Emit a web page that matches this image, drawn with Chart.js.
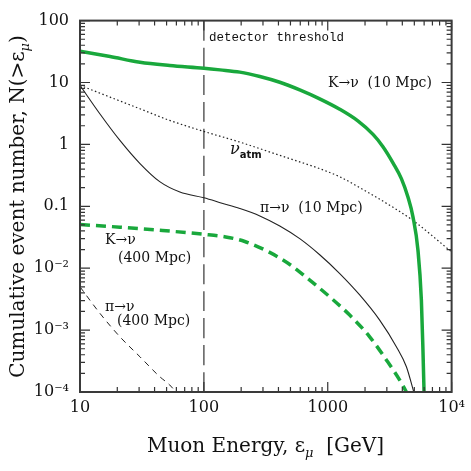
<!DOCTYPE html>
<html>
<head>
<meta charset="utf-8">
<script src="https://cdn.jsdelivr.net/npm/chart.js@4.4.1/dist/chart.umd.min.js"></script>
<style>
html, body { margin: 0; padding: 0; background: #fff; }
</style>
</head>
<body>
<canvas id="chart" width="471" height="471"></canvas>
<script>
// muon energy [GeV] and cumulative event number
const kNearE = [10, 17.5, 30.5, 53, 100, 135, 195, 283, 410, 594, 861, 1250, 1750, 2320, 2790, 3370, 3930, 4440, 4880, 5350, 5700, 5870, 5990];
const kNearN = [32, 26.3, 21.2, 18.8, 17, 16, 14.7, 12.5, 10.1, 7.6, 5.45, 3.7, 2.4, 1.45, 0.92, 0.5, 0.28, 0.141, 0.067, 0.0195, 0.00305, 0.000475, 0.0001];

const atmE = [10, 17.5, 30.5, 53, 100, 195, 410, 861, 1250, 1811, 2472, 4878, 9640, 10000];
const atmN = [9, 5.8, 3.76, 2.44, 1.62, 1.09, 0.665, 0.405, 0.3, 0.2, 0.14, 0.059, 0.0195, 0.0184];

const piNearE = [10, 14.5, 21, 30.5, 44, 64, 100, 140, 195, 283, 410, 594, 861, 1250, 1811, 2626, 3580, 4315, 4950];
const piNearN = [9, 3.1, 1.16, 0.49, 0.25, 0.17, 0.137, 0.112, 0.092, 0.07, 0.048, 0.03, 0.0165, 0.0082, 0.0037, 0.00145, 0.00054, 0.000256, 0.0001];

const kFarE = [10, 21, 44, 100, 150, 214, 340, 494, 716, 1038, 1504, 2181, 2972, 3811, 4315];
const kFarN = [0.0507, 0.046, 0.041, 0.0353, 0.032, 0.027, 0.018, 0.0115, 0.0064, 0.00344, 0.00175, 0.00078, 0.00033, 0.000156, 0.0001];

const piFarE = [10, 14.5, 21, 30.5, 44, 53, 59.5];
const piFarN = [0.005, 0.00186, 0.00078, 0.00037, 0.000177, 0.00013, 0.0001];

const thresholdE = 100;

const xTickValues = [10, 100, 1000, 10000];
const xTickLabels = ['10', '100', '1000', '10⁴'];
const yTickValues = [100, 10, 1, 0.1, 0.01, 0.001, 0.0001];
const yTickLabels = ['100', '10', '1', '0.1', '10⁻²', '10⁻³', '10⁻⁴'];

const green = '#19a83c';
const ink = '#222';
const serif = "'DejaVu Serif', serif";

function pts(xs, ys) {
    return xs.map((x, i) => ({ x: x, y: ys[i] }));
}

function labelFor(values, labels) {
    return function(value) {
        const i = values.findIndex(v => Math.abs(v - value) / v < 1e-6);
        return i >= 0 ? labels[i] : '';
    };
}

// text made of pieces so that subscripts can be drawn
function drawParts(ctx, parts, x, y) {
    let cx = x;
    parts.forEach(p => {
        ctx.font = p.font;
        ctx.fillText(p.text, cx, y + (p.dy || 0));
        cx += ctx.measureText(p.text).width;
    });
    return cx;
}

function partsWidth(ctx, parts) {
    let w = 0;
    parts.forEach(p => { ctx.font = p.font; w += ctx.measureText(p.text).width; });
    return w;
}

const framePlugin = {
    id: 'frame',
    afterDatasetsDraw(chart) {
        const ctx = chart.ctx;
        const a = chart.chartArea;
        const xs = chart.scales.x;
        const ys = chart.scales.y;
        ctx.save();

        // inward tick marks on all four sides
        ctx.strokeStyle = '#333';
        ctx.lineWidth = 1.2;
        const decadeTicks = (min, max) => {
            const out = [];
            for (let e = Math.floor(Math.log10(min)); e <= Math.ceil(Math.log10(max)); e++) {
                for (let m = 1; m < 10; m++) {
                    const v = m * Math.pow(10, e);
                    if (v >= min * 0.999 && v <= max * 1.001) out.push({ v: v, major: m === 1 });
                }
            }
            return out;
        };
        ctx.beginPath();
        decadeTicks(xs.min, xs.max).forEach(t => {
            const px = xs.getPixelForValue(t.v);
            const len = t.major ? 10 : 5;
            ctx.moveTo(px, a.bottom); ctx.lineTo(px, a.bottom - len);
            ctx.moveTo(px, a.top); ctx.lineTo(px, a.top + len);
        });
        decadeTicks(ys.min, ys.max).forEach(t => {
            const py = ys.getPixelForValue(t.v);
            const len = t.major ? 10 : 5;
            ctx.moveTo(a.left, py); ctx.lineTo(a.left + len, py);
            ctx.moveTo(a.right, py); ctx.lineTo(a.right - len, py);
        });
        ctx.stroke();

        ctx.strokeStyle = '#3a3a3a';
        ctx.lineWidth = 2;
        ctx.strokeRect(a.left, a.top, a.right - a.left, a.bottom - a.top);

        // curve labels
        ctx.fillStyle = '#111';
        ctx.textBaseline = 'middle';
        ctx.textAlign = 'left';
        ctx.font = "12.5px 'Liberation Mono', monospace";
        ctx.fillText('detector threshold', 209, 38);

        ctx.font = '14px ' + serif;
        ctx.fillText('K→ν  (10 Mpc)', 328, 83);
        ctx.fillText('π→ν  (10 Mpc)', 260, 208);
        ctx.fillText('K→ν', 105, 240);
        ctx.fillText('(400 Mpc)', 118, 258);
        ctx.fillText('π→ν', 105, 307);
        ctx.fillText('(400 Mpc)', 117, 321);

        drawParts(ctx, [
            { text: 'ν', font: 'italic 16px ' + serif },
            { text: 'atm', font: "bold 10px 'DejaVu Sans', sans-serif", dy: 5 }
        ], 230, 150);

        // axis titles
        ctx.textBaseline = 'alphabetic';
        const xTitle = [
            { text: 'Muon Energy, ε', font: '20px ' + serif },
            { text: 'μ', font: 'italic 13px ' + serif, dy: 5 },
            { text: '  [GeV]', font: '20px ' + serif }
        ];
        const xw = partsWidth(ctx, xTitle);
        drawParts(ctx, xTitle, 265.5 - xw / 2, 452);

        const yTitle = [
            { text: 'Cumulative event number, N(>ε', font: '20px ' + serif },
            { text: 'μ', font: 'italic 13px ' + serif, dy: 5 },
            { text: ')', font: '20px ' + serif }
        ];
        const yw = partsWidth(ctx, yTitle);
        ctx.translate(24, 206.5);
        ctx.rotate(-Math.PI / 2);
        drawParts(ctx, yTitle, -yw / 2, 0);

        ctx.restore();
    }
};

new Chart(document.getElementById('chart'), {
    type: 'line',
    data: {
        datasets: [
            {
                label: 'detector threshold',
                data: [{ x: thresholdE, y: yTickValues[yTickValues.length - 1] }, { x: thresholdE, y: yTickValues[0] }],
                borderColor: '#666',
                borderWidth: 1.6,
                borderDash: [20, 7],
                order: 5
            },
            {
                label: 'K→ν (10 Mpc)',
                data: pts(kNearE, kNearN),
                borderColor: green,
                borderWidth: 3.5,
                order: 1
            },
            {
                label: 'ν atm',
                data: pts(atmE, atmN),
                borderColor: ink,
                borderWidth: 1.2,
                borderDash: [1.5, 2.5],
                order: 2
            },
            {
                label: 'π→ν (10 Mpc)',
                data: pts(piNearE, piNearN),
                borderColor: ink,
                borderWidth: 1.1,
                order: 3
            },
            {
                label: 'K→ν (400 Mpc)',
                data: pts(kFarE, kFarN),
                borderColor: green,
                borderWidth: 3.5,
                borderDash: [10, 6],
                order: 1
            },
            {
                label: 'π→ν (400 Mpc)',
                data: pts(piFarE, piFarN),
                borderColor: ink,
                borderWidth: 1,
                borderDash: [6, 5],
                order: 3
            }
        ]
    },
    options: {
        responsive: false,
        animation: false,
        devicePixelRatio: 1,
        layout: { padding: { top: 20, right: 19, left: 0, bottom: 0 } },
        elements: {
            point: { radius: 0 },
            line: { cubicInterpolationMode: 'monotone', fill: false }
        },
        plugins: {
            legend: { display: false },
            tooltip: { enabled: false }
        },
        scales: {
            x: {
                type: 'logarithmic',
                min: xTickValues[0],
                max: xTickValues[xTickValues.length - 1],
                grid: { display: false, drawTicks: false },
                border: { display: false },
                afterFit: s => { s.height = 79; },
                ticks: {
                    autoSkip: false,
                    maxRotation: 0,
                    padding: 6,
                    color: '#111',
                    font: { family: 'DejaVu Serif', size: 16 },
                    callback: labelFor(xTickValues, xTickLabels)
                }
            },
            y: {
                type: 'logarithmic',
                min: yTickValues[yTickValues.length - 1],
                max: yTickValues[0],
                grid: { display: false, drawTicks: false },
                border: { display: false },
                afterFit: s => { s.width = 80; },
                ticks: {
                    autoSkip: false,
                    padding: 11,
                    color: '#111',
                    font: { family: 'DejaVu Serif', size: 16 },
                    callback: labelFor(yTickValues, yTickLabels)
                }
            }
        }
    },
    plugins: [framePlugin]
});
</script>
</body>
</html>
